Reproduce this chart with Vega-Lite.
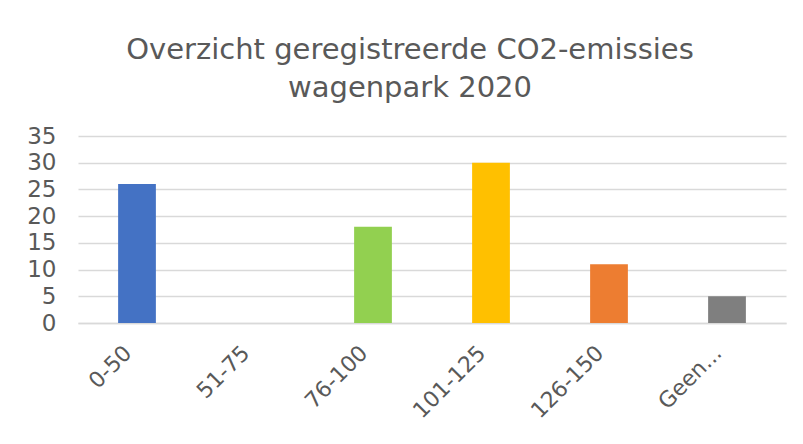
{
  "$schema": "https://vega.github.io/schema/vega-lite/v6.json",
  "width": 708,
  "height": 187,
  "padding": {"left": 26, "top": 36, "right": 15, "bottom": 5},
  "background": "white",
  "title": {
    "text": ["Overzicht geregistreerde CO2-emissies", "wagenpark 2020"],
    "font": "DejaVu Sans",
    "fontSize": 29,
    "fontWeight": "normal",
    "color": "#595959",
    "lineHeight": 38,
    "offset": 22,
    "dx": -22,
    "anchor": "middle"
  },
  "data": {
    "values": [
      {"cat": "0-50", "n": 26},
      {"cat": "51-75", "n": 0},
      {"cat": "76-100", "n": 18},
      {"cat": "101-125", "n": 30},
      {"cat": "126-150", "n": 11},
      {"cat": "Geen...", "n": 5}
    ]
  },
  "mark": {"type": "bar"},
  "encoding": {
    "x": {
      "field": "cat",
      "type": "nominal",
      "sort": null,
      "scale": {"paddingInner": 0.68, "paddingOuter": 0.34},
      "axis": {
        "title": null,
        "labelAngle": -45,
        "labelFont": "DejaVu Sans",
        "labelFontSize": 22,
        "labelColor": "#595959",
        "ticks": false,
        "domain": true,
        "domainColor": "#D9D9D9",
        "domainWidth": 1.5,
        "labelPadding": 19,
        "labelOffset": -16
      }
    },
    "y": {
      "field": "n",
      "type": "quantitative",
      "scale": {"domain": [0, 35]},
      "axis": {
        "title": null,
        "values": [0, 5, 10, 15, 20, 25, 30, 35],
        "labelFont": "DejaVu Sans",
        "labelFontSize": 23,
        "labelColor": "#595959",
        "ticks": false,
        "domain": false,
        "gridColor": "#D9D9D9",
        "gridWidth": 1.5,
        "labelPadding": 22
      }
    },
    "color": {
      "field": "cat",
      "type": "nominal",
      "sort": null,
      "scale": {
        "domain": ["0-50", "51-75", "76-100", "101-125", "126-150", "Geen..."],
        "range": ["#4472C4", "#A5A5A5", "#92D050", "#FFC000", "#ED7D31", "#7F7F7F"]
      },
      "legend": null
    }
  },
  "config": {"view": {"stroke": null}}
}
